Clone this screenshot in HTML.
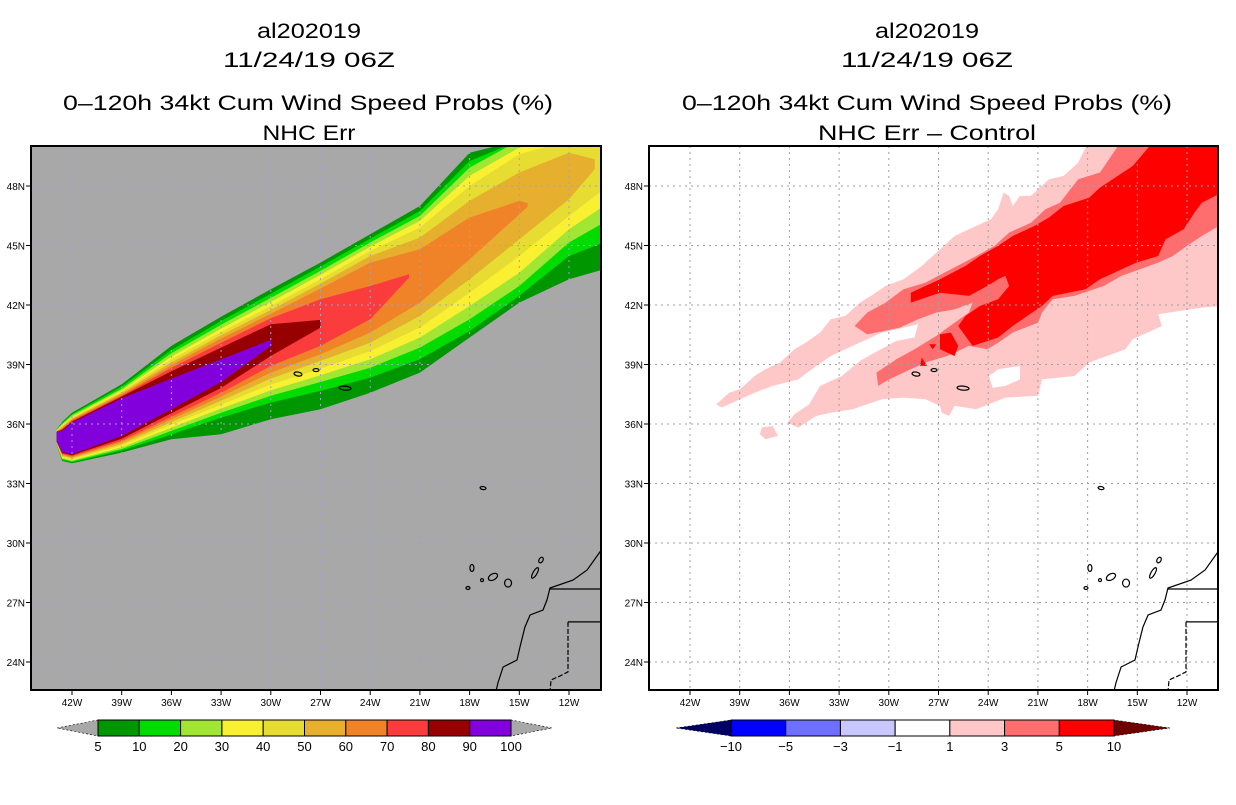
<!DOCTYPE html>
<html><head><meta charset="utf-8">
<style>
html,body{margin:0;padding:0;background:#fff;}
body{width:1236px;height:800px;overflow:hidden;font-family:"Liberation Sans",sans-serif;}
svg text{font-family:"Liberation Sans",sans-serif;}
</style></head>
<body>
<svg id="fig" width="1236" height="800" viewBox="0 0 1236 800" xmlns="http://www.w3.org/2000/svg">
  <defs>
    <clipPath id="clipL"><rect x="31" y="146" width="570" height="544"/></clipPath>
    <clipPath id="clipR"><rect x="649" y="146" width="569" height="544"/></clipPath>
  </defs>
  <g font-size="21" text-anchor="middle" fill="#000">
    <text x="309" y="38" textLength="104" lengthAdjust="spacingAndGlyphs">al202019</text>
    <text x="309" y="67" textLength="172" lengthAdjust="spacingAndGlyphs">11/24/19 06Z</text>
    <text x="308" y="110" textLength="490" lengthAdjust="spacingAndGlyphs">0–120h 34kt Cum Wind Speed Probs (%)</text>
    <text x="309" y="140" textLength="93" lengthAdjust="spacingAndGlyphs">NHC Err</text>
  </g>
  <g font-size="21" text-anchor="middle" fill="#000">
    <text x="927" y="38" textLength="104" lengthAdjust="spacingAndGlyphs">al202019</text>
    <text x="927" y="67" textLength="172" lengthAdjust="spacingAndGlyphs">11/24/19 06Z</text>
    <text x="927" y="110" textLength="490" lengthAdjust="spacingAndGlyphs">0–120h 34kt Cum Wind Speed Probs (%)</text>
    <text x="927" y="140" textLength="218" lengthAdjust="spacingAndGlyphs">NHC Err – Control</text>
  </g>
  <g id="left"></g>
  <g id="right"></g>
  <g id="cbars"></g>
</svg>
<script>
// ---------- data ----------
const colLons=[-42.93,-42.6,-42,-39,-36,-33,-30,-27,-24,-21.66,-21,-18,-15,-14.5,-12,-10.45,-9.9];
const bandLevels=[5,10,20,30,40,50,60,70,80,90];
const bandColors=['#009600','#00dc00','#a0e632','#faf032','#e6dc32','#e6af2d','#f08228','#fa3c3c','#960000','#8200dc'];
const top5=[35.73,36.1,36.57,38.0,39.94,41.41,42.79,44.14,45.57,null,46.99,49.68,50.3,null,50.3,null,50.3];
const bot5=[34.98,34.14,34.02,34.56,35.23,35.48,36.24,36.74,37.58,null,38.59,40.36,42.12,null,43.3,null,43.8];
const top10=[35.72,36.05,36.5,37.89,39.73,41.2,42.57,43.94,45.35,null,46.74,49.26,50.3,null,50.3,null,50.3];
const bot10=[34.99,34.19,34.07,34.66,35.47,36.32,37.08,37.67,38.34,null,39.26,40.69,42.46,null,44.47,null,45.15];
const top20=[35.7,36.0,36.44,37.78,39.57,41.0,42.36,43.72,45.15,null,46.49,48.93,50.3,null,50.3,null,50.3];
const bot20=[35.01,34.24,34.12,34.74,35.65,36.57,37.42,38.12,38.84,null,39.85,41.28,42.96,null,45.15,null,46.15];
const top30=[35.68,35.95,36.37,37.7,39.4,40.81,42.15,43.52,44.94,null,46.24,48.51,49.94,null,50.3,null,50.3];
const bot30=[35.03,34.29,34.17,34.83,35.82,36.78,37.7,38.46,39.26,null,40.36,41.95,43.63,null,45.82,null,46.99];
const top40=[35.67,35.9,36.32,37.63,39.25,40.64,41.95,43.3,44.73,null,45.9,48.0,49.6,null,50.3,null,50.3];
const bot40=[35.04,34.34,34.22,34.91,35.97,36.98,37.99,38.79,39.68,null,40.86,42.62,44.47,null,46.49,null,47.83];
const top50=[35.65,35.85,36.27,37.57,39.1,40.47,41.75,43.08,44.47,null,45.4,47.25,48.68,null,49.68,49.35,null];
const bot50=[35.06,34.39,34.27,34.99,36.1,37.18,38.29,39.18,40.1,null,41.45,43.3,45.31,null,47.33,48.84,null];
const top60=[35.63,35.8,36.22,37.5,38.96,40.31,41.55,42.83,44.14,null,44.81,46.41,47.25,47.13,null,null,null];
const bot60=[35.08,34.44,34.32,35.08,36.24,37.38,38.59,39.52,40.61,null,42.12,44.31,46.57,46.96,null,null,null];
const top70=[35.62,35.75,36.17,37.43,38.83,40.1,41.33,42.29,42.96,43.55,null,null,null,null,null,null,null];
const bot70=[35.1,34.49,34.37,35.16,36.37,37.58,38.93,39.94,41.28,43.38,null,null,null,null,null,null,null];
const top80=[35.6,35.7,36.12,37.38,38.66,39.85,41.03,41.25,null,null,null,null,null,null,null,null,null];
const bot80=[35.11,34.54,34.42,35.26,36.54,37.82,39.43,40.86,null,null,null,null,null,null,null,null,null];
const top90=[35.58,35.65,36.07,37.3,38.29,39.26,40.24,null,null,null,null,null,null,null,null,null,null];
const bot90=[35.13,34.59,34.47,35.4,36.74,38.12,39.94,null,null,null,null,null,null,null,null,null,null];
const bandTops=[top5,top10,top20,top30,top40,top50,top60,top70,top80,top90];
const bandBots=[bot5,bot10,bot20,bot30,bot40,bot50,bot60,bot70,bot80,bot90];

// difference field contours (lon,lat)
const diffPink=[[-40.41,36.99],[-39.64,37.58],[-38.98,37.75],[-38.1,38.42],[-37.45,38.76],[-36.57,39.1],[-35.69,39.77],[-35.03,40.1],[-34.15,40.61],[-33.5,41.28],[-32.62,41.45],[-31.74,42.12],[-31.08,42.46],[-30.2,42.96],[-29.11,43.3],[-28.01,43.97],[-27.13,44.64],[-26.03,45.48],[-24.72,45.99],[-23.84,46.32],[-23.4,46.83],[-23.07,47.67],[-22.74,47.5],[-22.52,46.99],[-22.08,47.5],[-21.42,47.5],[-20.33,48.34],[-19.45,48.51],[-18.57,49.18],[-17.91,50.3],[-9.9,50.3],[-9.9,41.95],[-11.11,41.87],[-13.74,41.53],[-13.52,40.94],[-15.28,40.27],[-15.72,39.77],[-17.91,39.1],[-18.79,38.42],[-20.76,38.25],[-20.98,37.42],[-22.96,37.33],[-24.72,36.74],[-26.03,36.91],[-26.36,36.41],[-26.8,36.57],[-26.91,36.91],[-27.79,37.25],[-29.11,37.33],[-30.42,37.25],[-32.18,36.74],[-33.5,36.57],[-34.37,36.41],[-35.47,35.82],[-36.13,36.07],[-35.69,36.49],[-34.81,36.99],[-34.15,37.92],[-32.84,38.42],[-31.74,39.18],[-30.86,39.6],[-29.54,40.19],[-28.45,40.36],[-28.23,41.03],[-29.11,40.86],[-30.42,40.61],[-32.18,39.94],[-33.5,39.43],[-34.37,38.93],[-35.47,38.25],[-37.01,37.92],[-38.1,37.58],[-38.98,37.25],[-40.08,36.83]];
const diffPinkBlob=[[-37.67,35.82],[-37.01,35.9],[-36.68,35.4],[-37.45,35.23],[-37.78,35.48]];
const diffHole=[[-23.95,38.42],[-23.4,38.76],[-22.08,38.93],[-22.08,38.25],[-22.96,37.92],[-23.73,37.83]];
const diffMid=[[-32.07,40.94],[-31.3,41.62],[-30.2,42.12],[-29.11,42.79],[-27.79,43.13],[-26.25,43.8],[-24.72,44.47],[-23.62,44.98],[-22.74,45.65],[-21.42,46.15],[-20.55,46.83],[-19.67,47.16],[-18.57,48.34],[-17.25,48.68],[-15.94,50.3],[-9.9,50.3],[-9.9,46.07],[-11.11,45.48],[-12.0,44.98],[-12.86,44.47],[-13.74,44.14],[-15.94,43.47],[-17.03,42.96],[-18.79,42.46],[-20.11,42.29],[-20.76,41.62],[-20.98,41.11],[-22.52,40.61],[-23.4,40.1],[-24.06,39.77],[-25.16,39.94],[-26.47,39.43],[-27.79,39.1],[-29.11,38.59],[-29.98,38.25],[-30.64,37.92],[-30.75,38.59],[-29.54,39.26],[-28.45,39.77],[-27.13,40.44],[-26.03,41.11],[-25.16,41.62],[-24.94,42.12],[-26.03,41.78],[-27.13,41.62],[-28.23,41.28],[-29.33,40.86],[-31.3,40.52]];
const diffRed=[[-28.67,42.62],[-26.91,43.3],[-25.37,43.97],[-24.5,44.47],[-23.4,44.98],[-22.52,45.48],[-21.2,45.99],[-20.33,46.41],[-19.45,46.99],[-17.91,47.41],[-17.25,47.92],[-15.28,49.01],[-13.96,50.3],[-9.9,50.3],[-9.9,47.67],[-11.11,47.16],[-11.55,46.66],[-12.2,45.82],[-13.3,45.31],[-13.74,44.47],[-15.06,44.14],[-15.94,43.8],[-17.25,43.3],[-18.13,42.79],[-20.11,42.46],[-20.76,41.95],[-21.64,41.45],[-22.52,40.94],[-23.4,40.36],[-24.94,39.94],[-25.81,40.94],[-25.37,41.45],[-24.5,41.95],[-23.4,42.29],[-22.74,42.96],[-22.96,43.47],[-23.4,43.3],[-24.06,42.96],[-25.16,42.46],[-26.91,42.62],[-28.67,42.12]];
const diffRedBlob=[[-26.91,40.52],[-26.25,40.61],[-25.81,39.94],[-26.03,39.43],[-26.91,39.77]];
const diffRedBit1=[[-27.57,40.02],[-27.13,40.02],[-27.35,39.77]];
const diffRedBit2=[[-28.12,38.93],[-28.01,39.35],[-27.68,38.93]];

// geography
const coastAfrica=[[-10.0,29.7],[-10.13,29.55],[-10.91,28.64],[-11.76,28.13],[-13.15,27.73],[-13.33,27.13],[-13.57,26.62],[-14.35,26.37],[-14.66,25.76],[-14.96,24.76],[-15.14,24.1],[-15.98,23.75],[-16.29,22.94],[-16.41,22.5]];
const border1=[[-13.15,27.68],[-9.9,27.68]];
const border2=[[-9.9,26.02],[-12.06,26.02]];
const border3=[[-12.06,26.02],[-12.06,23.5],[-12.54,23.3],[-13.09,23.09],[-13.15,22.5]];
const islandLons=[-28.36,-27.27,-25.52,-17.19,-17.86,-17.25,-16.59,-15.68,-14.05,-13.69,-18.1];
const islandLats=[38.52,38.72,37.81,32.77,28.74,28.13,28.29,27.98,28.49,29.14,27.73];
const islandNames=['azores-west','azores-terceira','azores-sao-miguel','madeira','la-palma','la-gomera','tenerife','gran-canaria','fuerteventura','lanzarote','el-hierro'];
const islandRx=[4,3,6,3,2,1.5,5,3.5,2,2,2];
const islandRy=[2,1.5,2,1.5,3.5,1.5,3,4,6,3,1.5];
const islandRot=[10,0,5,10,0,0,-30,0,30,30,0];

const lonTicks=[-42,-39,-36,-33,-30,-27,-24,-21,-18,-15,-12];
const lonTickLabels=['42W','39W','36W','33W','30W','27W','24W','21W','18W','15W','12W'];
const latTicks=[48,45,42,39,36,33,30,27,24];
const latTickLabels=['48N','45N','42N','39N','36N','33N','30N','27N','24N'];

const cbLeftLabels=['5','10','20','30','40','50','60','70','80','90','100'];
const cbLeftColors=bandColors;
const cbRightLabels=['−10','−5','−3','−1','1','3','5','10'];
const cbRightColors=['#0000ff','#6e6eff','#c8c8ff','#ffffff','#ffc8c8','#ff6e6e','#ff0000'];

// ---------- rendering ----------
const NS='http://www.w3.org/2000/svg';
function mk(tag,attrs,parent){const e=document.createElementNS(NS,tag);for(const k in attrs)e.setAttribute(k,attrs[k]);parent.appendChild(e);return e;}
function projX(x0){return lon=>x0+(lon+42)*16.567;}
const projY=lat=>186+(48-lat)*19.833;
function ptsStr(list,px){return list.map(p=>px(p[0]).toFixed(1)+','+projY(p[1]).toFixed(1)).join(' ');}

function drawPanel(g,x0,left,w,clip,bg){
  const px=projX(x0);
  mk('rect',{x:left,y:146,width:w,height:544,fill:bg},g);
  const c=mk('g',{'clip-path':'url(#'+clip+')'},g);
  
  
  return {px,c};
}
function drawGrid(c,px,gridCol,left,w){
  const gg=mk('g',{stroke:gridCol,'stroke-width':1,'stroke-dasharray':'2,4'},c);
  
  
  lonTicks.forEach(l=>{mk('line',{x1:px(l),y1:146,x2:px(l),y2:690},gg);});
  latTicks.forEach(l=>{mk('line',{x1:left,y1:projY(l),x2:left+w,y2:projY(l)},gg);});
}
function drawGeo(c,px){
  const geo=mk('g',{fill:'none',stroke:'#000','stroke-width':1.2},c);
  
  
  const a=mk('polyline',{points:ptsStr(coastAfrica,px)},geo);
  
  
  mk('polyline',{points:ptsStr(border1,px)},geo);
  mk('polyline',{points:ptsStr(border2,px)},geo);
  mk('polyline',{points:ptsStr(border3,px),'stroke-dasharray':'5,2'},geo);
  islandLons.forEach((lon,i)=>{
    const x=px(lon),y=projY(islandLats[i]);
    const e=mk('ellipse',{cx:x,cy:y,rx:islandRx[i],ry:islandRy[i],transform:'rotate('+islandRot[i]+' '+x+' '+y+')'},geo);
    
    
  });
}
function drawAxes(g,px,left,w){
  mk('rect',{x:left,y:146,width:w,height:544,fill:'none',stroke:'#000','stroke-width':2},g);
  const ax=mk('g',{'font-size':10,fill:'#000'},g);
  
  
  lonTicks.forEach((l,i)=>{
    const x=px(l);
    mk('line',{x1:x,y1:690,x2:x,y2:695,stroke:'#000'},ax);
    const t=mk('text',{x:x,y:706,'text-anchor':'middle'},ax);
    t.textContent=lonTickLabels[i];
    
    
  });
  latTicks.forEach((l,i)=>{
    const y=projY(l);
    mk('line',{x1:left-5,y1:y,x2:left,y2:y,stroke:'#000'},ax);
    const t=mk('text',{x:left-6,y:y+4,'text-anchor':'end'},ax);
    t.textContent=latTickLabels[i];
    
    
  });
}

// left panel
(function(){
  const g=document.getElementById('left');
  const {px,c}=drawPanel(g,72,31,570,'clipL','#a8a8a8');
  bandLevels.forEach((lev,b)=>{
    const up=[],dn=[];
    colLons.forEach((lon,i)=>{
      if(bandTops[b][i]!=null)up.push([lon,bandTops[b][i]]);
      if(bandBots[b][i]!=null)dn.push([lon,bandBots[b][i]]);
    });
    const poly=up.concat(dn.reverse());
    const p=mk('polygon',{points:ptsStr(poly,px),fill:bandColors[b]},c);
    
    
  });
  drawGrid(c,px,'#a0a0d2',31,570);
  drawGeo(c,px);
  drawAxes(g,px,31,570);
})();

// right panel
(function(){
  const g=document.getElementById('right');
  const {px,c}=drawPanel(g,690,649,569,'clipR','#ffffff');
  const layers=[[diffPink,'#ffc8c8','diff-1-3'],[diffPinkBlob,'#ffc8c8','diff-1-3-blob'],[diffHole,'#ffffff','diff-hole'],[diffMid,'#ff6e6e','diff-3-5'],[diffRed,'#ff0000','diff-5-10'],[diffRedBlob,'#ff0000','diff-5-10-blob'],[diffRedBit1,'#ff0000','diff-5-10-bit'],[diffRedBit2,'#ff0000','diff-5-10-bit']];
  layers.forEach(L=>{
    const p=mk('polygon',{points:ptsStr(L[0],px),fill:L[1]},c);
    
    
  });
  drawGrid(c,px,'#a0a0a0',649,569);
  drawGeo(c,px);
  drawAxes(g,px,649,569);
})();

// colorbars
(function(){
  const g=document.getElementById('cbars');
  function bar(x0,x1,colors,labels,lc,rc,tipL,tipR,name){
    const bg=mk('g',{},g);
    
    
    const n=colors.length,bw=(x1-x0)/n,y0=720,y1=736,ym=728;
    mk('polygon',{points:tipL+','+ym+' '+x0+','+y0+' '+x0+','+y1,fill:lc,stroke:'#000','stroke-width':0.6,'stroke-dasharray':'2,2'},bg);
    mk('polygon',{points:tipR+','+ym+' '+x1+','+y0+' '+x1+','+y1,fill:rc,stroke:'#000','stroke-width':0.6,'stroke-dasharray':'2,2'},bg);
    colors.forEach((col,i)=>{
      const r=mk('rect',{x:x0+i*bw,y:y0,width:bw,height:y1-y0,fill:col,stroke:'#000','stroke-width':1},bg);
      
      
    });
    labels.forEach((t,i)=>{
      const tx=mk('text',{x:x0+i*bw,y:751,'text-anchor':'middle','font-size':13},bg);
      tx.textContent=t;
      
      
    });
  }
  bar(98,511,cbLeftColors,cbLeftLabels,'#a8a8a8','#a8a8a8',57,552,'left-colorbar');
  bar(731,1114,cbRightColors,cbRightLabels,'#000064','#6e0000',676,1170,'right-colorbar');
})();
</script>
</body></html>
